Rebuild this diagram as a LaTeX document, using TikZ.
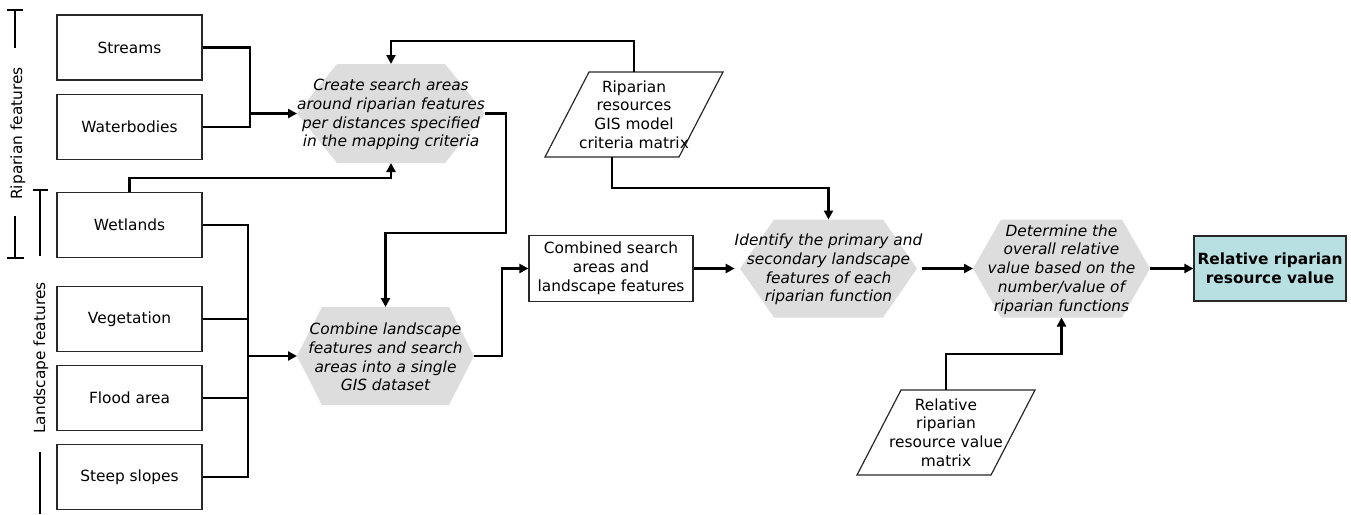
\documentclass[tikz,border=0pt]{standalone}
\usepackage{fontspec}
\setmainfont{DejaVu Sans}
\usetikzlibrary{arrows.meta,calc}
\newcommand\dgfont{\fontsize{15.4}{18.8}\selectfont}
\definecolor{hexgray}{RGB}{221,221,221}
\definecolor{finalfill}{RGB}{184,224,226}
\definecolor{edgecol}{RGB}{40,40,40}
% hexagon: cx, cy, half width, half height, slant
\newcommand\drawhex[5]{\fill[hexgray] ({#1-#3},#2) -- ({#1-#3+#5},{#2-#4}) -- ({#1+#3-#5},{#2-#4}) -- ({#1+#3},#2) -- ({#1+#3-#5},{#2+#4}) -- ({#1-#3+#5},{#2+#4}) -- cycle;}
% parallelogram: cx, cy (half width at mid 67, half height 42.5, slant 44)
\newcommand\drawpar[2]{\draw[draw=edgecol,line width=1.2pt,fill=white] ({#1-89},{#2+42.5}) -- ({#1+45},{#2+42.5}) -- ({#1+89},{#2-42.5}) -- ({#1-45},{#2-42.5}) -- cycle;}
\begin{document}
\begin{tikzpicture}[x=1pt,y=-1pt,
  box/.style={draw=edgecol, line width=1.2pt, fill=white, minimum width=145pt, minimum height=65pt, inner sep=0pt, align=center, font=\dgfont},
  hex/.style={inner sep=0pt, outer sep=0pt, align=center, font=\dgfont\itshape},
  par/.style={inner sep=0pt, outer sep=0pt, minimum width=134pt, minimum height=85pt, align=center, font=\dgfont},
  conn/.style={line width=2.6pt, draw=black},
  arr/.style={conn, -{Triangle[length=9pt,width=9pt]}},
  bar/.style={line width=1.3pt, draw=black},
  lab/.style={rotate=90, font=\dgfont, inner sep=0pt}
]
\useasboundingbox (0,0) rectangle (1351,514);
\fill[white] (0,0) rectangle (1351,514);

% left brackets
\draw[bar] (7,10) -- (23,10) (15,10) -- (15,48) (15,216) -- (15,258) (7,258) -- (24,258);
\draw[bar] (33,190) -- (48,190) (40,190) -- (40,256) (40,452) -- (40,514);
\node[lab] (labrip) at (18,133.5) {Riparian features};
\node[lab] (labland) at (41,358) {Landscape features};

% input boxes
\node[box] (streams) at (129.5,47.5) {Streams};
\node[box] (water) at (129.5,127) {Waterbodies};
\node[box] (wet) at (129.5,225) {Wetlands};
\node[box] (veg) at (129.5,319) {Vegetation};
\node[box] (flood) at (129.5,398) {Flood area};
\node[box] (steep) at (129.5,477) {Steep slopes};

% hexagons
\drawhex{391}{113.5}{94}{49.5}{40}
\node[hex, minimum width=188pt, minimum height=99pt] (h1) at (391,114.5) {Create search areas\\around riparian features\\per distances specified\\in the mapping criteria};
\drawhex{385.5}{356}{88.5}{49}{25}
\node[hex, minimum width=177pt, minimum height=98pt] (h2) at (385.5,357) {Combine landscape\\features and search\\areas into a single\\GIS dataset};
\drawhex{828.5}{268.5}{88.5}{49}{34}
\node[hex, minimum width=177pt, minimum height=98pt] (h3) at (828.5,269.5) {Identify the primary and\\secondary landscape\\features of each\\riparian function};
\drawhex{1061.5}{268.5}{88.5}{49}{28}
\node[hex, minimum width=177pt, minimum height=98pt] (h4) at (1061.5,269.5) {Determine the\\overall relative\\value based on the\\number/value of\\riparian functions};

% parallelograms
\drawpar{634}{114.5}
\node[par] (crit) at (634,114.5) {Riparian\\resources\\GIS model\\criteria matrix};
\drawpar{946}{432.5}
\node[par] (relm) at (946,432.5) {Relative\\riparian\\resource value\\matrix};

% boxes on the main line
\node[box, minimum width=164pt, minimum height=66pt] (comb) at (611,268.5) {Combined search\\areas and\\landscape features};
\node[box, fill=finalfill, minimum width=152pt, minimum height=65pt, font=\dgfont\bfseries] (final) at (1270,268.5) {Relative riparian\\resource value};

% helper coordinates
\coordinate (j1) at (250,113.5);
\coordinate (c2) at (391,178);
\coordinate (j2) at (248,356);
\coordinate (c4) at (391,41);
\coordinate (c5) at (506,233);
\coordinate (c6) at (502,268.5);
\coordinate (critb) at ([xshift=-22pt]crit.south);
\coordinate (c8) at (828.5,188);
\coordinate (c11) at (1061.5,354);

% connectors
\draw[conn] (streams.east) -| (j1) |- (water.east);
\draw[arr] (j1) -- (h1.west |- j1);
\draw[arr] (wet.north) |- (c2) -- ([yshift=1pt]h1.south);
\draw[conn] (wet.east) -| (j2) |- (steep.east);
\draw[conn] (veg.east) -- (veg.east -| j2);
\draw[conn] (flood.east) -- (flood.east -| j2);
\draw[arr] (j2) -- (h2.west |- j2);
\draw[arr] (crit.north) |- (c4) -- ([yshift=1pt]h1.north);
\draw[arr] (h1.east |- j1) -| (c5) -| ([yshift=1pt]h2.north);
\draw[arr] (h2.east |- j2) -| (c6) -- (comb.west);
\draw[arr] (comb.east) -- (h3.west |- comb.east);
\draw[arr] (critb) |- (c8) -- ([yshift=1pt]h3.north);
\draw[arr] (h3.east |- comb.east) -- (h4.west |- comb.east);
\draw[arr] (h4.east |- comb.east) -- (final.west);
\draw[arr] (relm.north) |- (c11) -- ([yshift=1pt]h4.south);
\end{tikzpicture}
\end{document}
